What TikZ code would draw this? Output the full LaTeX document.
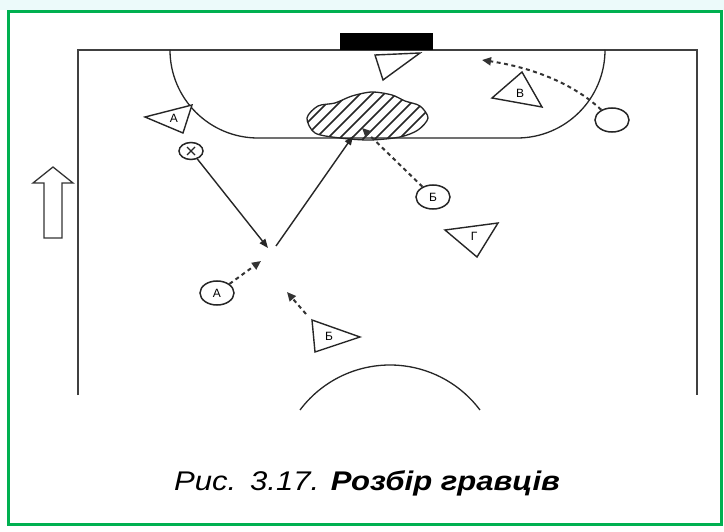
\documentclass[tikz,border=0pt]{standalone}
\usepackage{fontspec}
\setmainfont{Liberation Sans}
\usetikzlibrary{arrows.meta,shapes.geometric}
\definecolor{framegreen}{RGB}{0,176,80}
\definecolor{topbg}{RGB}{236,250,250}
\begin{document}
\begin{tikzpicture}[x=1pt,y=-1pt,
  court/.style={line width=1.7pt, draw=black!75},
  zone/.style={line width=1.3pt, draw=black!85},
  pltri/.style={line width=1.4pt, draw=black!85, fill=white, line join=miter},
  plcirc/.style={ellipse, draw=black!85, line width=1.5pt, minimum width=34pt, minimum height=24pt, inner sep=0pt, font=\fontsize{12}{14}\selectfont},
  lbl/.style={inner sep=0pt, font=\fontsize{12}{14}\selectfont},
  solidarr/.style={line width=1.4pt, draw=black!85, -{Triangle[length=9pt,width=7pt]}},
  dasharr/.style={line width=2pt, draw=black!80, dash pattern=on 4pt off 3.5pt, -{Triangle[length=9pt,width=8pt]}},
]
\useasboundingbox (0,0) rectangle (724,532);
\fill[white] (0,0) rectangle (724,532);
\fill[topbg] (0,0) rectangle (724,10);
\draw[framegreen, line width=3pt] (8,12) rectangle (721,524);

% court
\draw[court] (78,395) -- (78,50) -- (697,50) -- (697,395);
\fill[black] (340,33) rectangle (433,50);
\draw[zone] (170,50) arc[start angle=180, end angle=270, radius=88pt] -- (517,138)
  arc[start angle=270, end angle=360, radius=88pt];
\draw[zone] (300,410) arc[start angle=143.13, end angle=36.87, radius=112.5pt];

% hollow direction arrow
\draw[line width=1.3pt, draw=black!80, fill=white, line join=miter]
  (44,238) -- (44,183) -- (33,183) -- (53,167) -- (73,183) -- (62,183) -- (62,238) -- cycle;

% hatched zone
\begin{scope}
  \clip plot[smooth cycle] coordinates {(307,118) (318,106) (335,103) (352,96) (372,92) (392,95) (405,101) (420,106) (428,118) (418,130) (400,137) (370,140) (340,138) (315,133)};
  \foreach \i in {0,...,14} \draw[line width=1.6pt, black!85] ({280+\i*12},150) -- ++(60,-60);
\end{scope}
\draw[line width=1.3pt, black!85] plot[smooth cycle] coordinates {(307,118) (318,106) (335,103) (352,96) (372,92) (392,95) (405,101) (420,106) (428,118) (418,130) (400,137) (370,140) (340,138) (315,133)};

% triangles (defenders)
\draw[pltri] (375,55) -- (420,53) -- (383,80) -- cycle;
\node[lbl] (tgk) at (393,62) {};
\draw[pltri] (145,117) -- (192,105) -- (183,133) -- cycle;
\node[lbl] (ta) at (174,118) {А};
\draw[pltri] (492,98) -- (522,72) -- (542,107) -- cycle;
\node[lbl] (tv) at (520,93) {В};
\draw[pltri] (445,230) -- (498,223) -- (477,257) -- cycle;
\node[lbl] (tg) at (474,236) {Г};
\draw[pltri] (312,320) -- (360,337) -- (315,352) -- cycle;
\node[lbl] (tb) at (329,336) {Б};
\coordinate (tbtip) at (306,314);

% circles (attackers)
\node[plcirc, minimum width=24pt, minimum height=17pt] (x) at (191,151) {};
\draw[line width=1.2pt, black!85] (x.center) ++(-4,-4) -- ++(8,8) ++(-8,0) -- ++(8,-8);
\node[plcirc] (a) at (217,293) {А};
\node[plcirc] (b) at (433,197) {Б};
\node[plcirc] (c) at (612,120) {};

% movement coordinates
\coordinate (p1) at (268,248);
\coordinate (p2) at (276,246);
\coordinate (p3) at (353,136);
\coordinate (p4) at (362,128);
\coordinate (p5) at (261,261);
\coordinate (p6) at (287,292);
\coordinate (p7) at (482,60);

% connectors
\draw[solidarr] (x) -- (p1);
\draw[solidarr] (p2) -- (p3);
\draw[dasharr] (b) -- (p4);
\draw[dasharr] (a) -- (p5);
\draw[dasharr] (tbtip) -- (p6);
\draw[dasharr] (c) .. controls (575,85) and (535,68) .. (p7);

% caption
\node[anchor=base, inner sep=0pt] (cap) at (367,490)
  {\scalebox{1.15}[1]{\fontsize{27}{32}\selectfont\itshape Рис.\hspace{0.45em}3.17. \bfseries Розбір гравців}};
\end{tikzpicture}
\end{document}
